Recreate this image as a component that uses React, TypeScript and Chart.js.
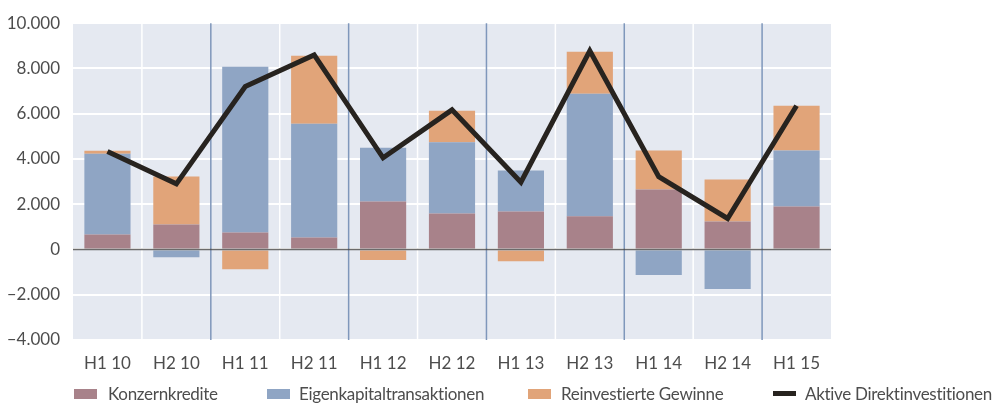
import React, { useEffect, useRef } from "react";
import { Chart, registerables } from "chart.js";

Chart.register(...registerables);

const categories = ["H1 10", "H2 10", "H1 11", "H2 11", "H1 12", "H2 12", "H1 13", "H2 13", "H1 14", "H2 14", "H1 15"];
const konzernkredite = [660, 1100, 750, 530, 2120, 1590, 1680, 1470, 2650, 1235, 1900];
const eigenkapital = [3570, -340, 7320, 5030, 2380, 3145, 1810, 5410, -1130, -1750, 2470];
const reinvestiert = [130, 2120, -870, 3000, -470, 1400, -515, 1855, 1720, 1855, 1980];
const aktive = [4330, 2900, 7200, 8600, 4050, 6170, 2970, 8780, 3220, 1370, 6350];
const yMin = -4000;
const yMax = 10000;
const yStep = 2000;

const C_KONZERN = "#a8828a";
const C_EIGEN = "#8fa5c4";
const C_REINV = "#e1a479";
const C_LINE = "#27231f";
const FONT = "Lato, 'Open Sans', sans-serif";
const TEXT = "#4d4d4d";

const fmt = (v: number) => {
  const s = Math.abs(v).toString().replace(/\B(?=(\d{3})+(?!\d))/g, ".");
  return (v < 0 ? "\u2013" : "") + s;
};

const bgPlugin = {
  id: "bgPlugin",
  beforeDraw(chart: any) {
    const { ctx, chartArea } = chart;
    ctx.save();
    ctx.fillStyle = "#e5e9f1";
    ctx.fillRect(chartArea.left, chartArea.top, chartArea.right - chartArea.left, chartArea.bottom - chartArea.top);
    ctx.restore();
  },
  beforeDatasetsDraw(chart: any) {
    const { ctx, chartArea, scales } = chart;
    const xs = scales.x;
    ctx.save();
    ctx.lineWidth = 1.5;
    for (let i = 1; i < categories.length; i++) {
      const x = (xs.getPixelForValue(i - 1) + xs.getPixelForValue(i)) / 2;
      ctx.strokeStyle = i % 2 === 1 ? "#ffffff" : "#7f97bb";
      ctx.beginPath();
      ctx.moveTo(x, chartArea.top);
      ctx.lineTo(x, chartArea.bottom);
      ctx.stroke();
    }
    ctx.restore();
  },
  afterDatasetsDraw(chart: any) {
    const { ctx, chartArea, scales } = chart;
    const y = scales.y.getPixelForValue(0);
    ctx.save();
    ctx.strokeStyle = "rgba(70,70,70,0.8)";
    ctx.lineWidth = 1.5;
    ctx.beginPath();
    ctx.moveTo(chartArea.left, y);
    ctx.lineTo(chartArea.right, y);
    ctx.stroke();
    ctx.restore();
  },
};

export default function App() {
  const ref = useRef<HTMLCanvasElement | null>(null);

  useEffect(() => {
    document.body.style.margin = "0";
    if (!ref.current) return;
    const chart = new Chart(ref.current, {
      type: "bar",
      data: {
        labels: categories,
        datasets: [
          { type: "bar", label: "Konzernkredite", data: konzernkredite, backgroundColor: C_KONZERN, stack: "s", order: 2 },
          { type: "bar", label: "Eigenkapitaltransaktionen", data: eigenkapital, backgroundColor: C_EIGEN, stack: "s", order: 2 },
          { type: "bar", label: "Reinvestierte Gewinne", data: reinvestiert, backgroundColor: C_REINV, stack: "s", order: 2 },
          {
            type: "line",
            label: "Aktive Direktinvestitionen",
            data: aktive,
            borderColor: C_LINE,
            backgroundColor: C_LINE,
            borderWidth: 5,
            pointRadius: 0,
            tension: 0,
            borderJoinStyle: "miter",
            order: 1,
          } as any,
        ],
      },
      options: {
        animation: false,
        responsive: false,
        maintainAspectRatio: false,
        layout: { padding: { top: 22, right: 166, left: 0, bottom: 0 } },
        datasets: { bar: { categoryPercentage: 1, barPercentage: 0.67 } },
        plugins: { legend: { display: false }, tooltip: { enabled: false } },
        scales: {
          x: {
            stacked: true,
            offset: true,
            border: { display: false },
            grid: { display: false, drawTicks: false },
            ticks: { color: TEXT, font: { family: FONT, size: 17 }, padding: 13, maxRotation: 0 },
            afterFit: (s: any) => { s.height = 63; },
          },
          y: {
            stacked: true,
            min: yMin,
            max: yMax,
            border: { display: false },
            grid: { drawTicks: false, color: "#ffffff", lineWidth: 2 },
            ticks: {
              stepSize: yStep,
              color: TEXT,
              font: { family: FONT, size: 17 },
              padding: 13,
              callback: (v: any) => fmt(Number(v)),
            },
            afterFit: (s: any) => { s.width = 73; },
          },
        },
      },
      plugins: [bgPlugin],
    });
    return () => chart.destroy();
  }, []);

  const legendText: React.CSSProperties = {
    position: "absolute",
    top: 384,
    fontFamily: FONT,
    fontSize: 17,
    letterSpacing: "-0.3px",
    color: TEXT,
    lineHeight: "20px",
    whiteSpace: "nowrap",
  };
  const box = (left: number, color: string, h = 10, top = 389): React.CSSProperties => ({
    position: "absolute",
    left,
    top,
    width: 23,
    height: h,
    background: color,
  });

  return (
    <div style={{ position: "relative", width: 997, height: 403, background: "#fff", overflow: "hidden" }}>
      <canvas ref={ref} width={997} height={403} style={{ display: "block" }} />
      <div style={box(74, C_KONZERN)} />
      <div style={{ ...legendText, left: 108 }}>Konzernkredite</div>
      <div style={box(267, C_EIGEN)} />
      <div style={{ ...legendText, left: 299 }}>Eigenkapitaltransaktionen</div>
      <div style={box(528, C_REINV)} />
      <div style={{ ...legendText, left: 561 }}>Reinvestierte Gewinne</div>
      <div style={box(773, C_LINE, 5, 391)} />
      <div style={{ ...legendText, left: 805 }}>Aktive Direktinvestitionen</div>
    </div>
  );
}
